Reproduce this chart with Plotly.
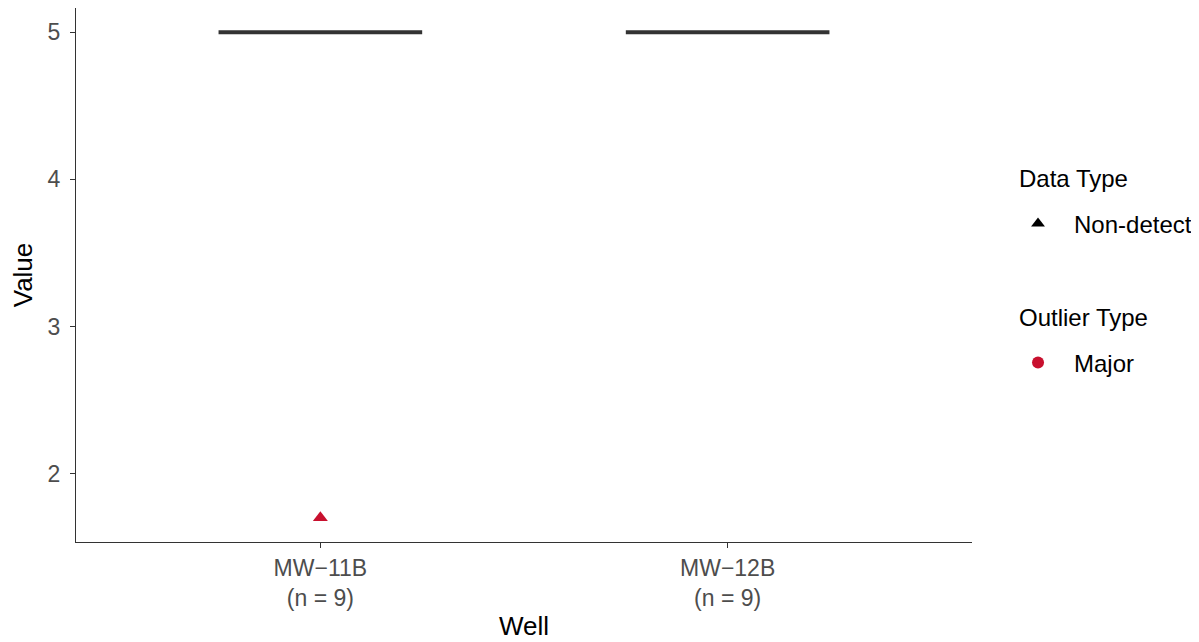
import plotly.graph_objects as go
import numpy as np

wells = ["MW−11B", "MW−12B"]
n_counts = [9, 9]
values_mw11b = [5, 5, 5, 5, 5, 5, 5, 5, 1.7]
values_mw12b = [5, 5, 5, 5, 5, 5, 5, 5, 5]
well_values = [values_mw11b, values_mw12b]
y_ticks = [2, 3, 4, 5]

FONT = "Liberation Sans, Arial, sans-serif"
RED = "#C8102E"
fig = go.Figure()

for i, vals in enumerate(well_values):
    arr = np.array(vals)
    q1, med, q3 = np.percentile(arr, [25, 50, 75])
    iqr = q3 - q1
    lo_lim, hi_lim = q1 - 1.5 * iqr, q3 + 1.5 * iqr
    inside = arr[(arr >= lo_lim) & (arr <= hi_lim)]
    outl = arr[(arr < lo_lim) | (arr > hi_lim)]
    fig.add_trace(go.Box(
        x=[i], q1=[q1], median=[med], q3=[q3],
        lowerfence=[inside.min()], upperfence=[inside.max()],
        width=0.5, boxpoints=False, fillcolor="rgba(255,255,255,0)",
        line=dict(color="#333333", width=4),
        showlegend=False, hoverinfo="skip",
    ))
    if len(outl):
        fig.add_trace(go.Scatter(
            x=[i] * len(outl), y=outl, mode="markers",
            marker=dict(symbol="triangle-up", color=RED, size=13),
            showlegend=False,
        ))

# legend entries (two legends, titles as annotations)
fig.add_trace(go.Scatter(
    x=[None], y=[None], mode="markers", name="Non-detect",
    marker=dict(symbol="triangle-up", color="black", size=12),
    legend="legend",
))
fig.add_trace(go.Scatter(
    x=[None], y=[None], mode="markers", name="Major",
    marker=dict(symbol="circle", color=RED, size=12),
    legend="legend2",
))

ticktext = [f"{w}<br>(n = {n})" for w, n in zip(wells, n_counts)]

leg_common = dict(x=1.0335, xanchor="left", yanchor="middle",
                  font=dict(size=24, color="black"), itemwidth=62,
                  bgcolor="rgba(0,0,0,0)")

fig.update_layout(
    width=1191, height=634,
    margin=dict(l=68, r=227, t=0, b=100),
    paper_bgcolor="white", plot_bgcolor="white",
    font=dict(family=FONT, size=24, color="black"),
    legend=dict(y=0.5955, **leg_common),
    legend2=dict(y=0.3352, **leg_common),
    annotations=[
        dict(text="Data Type", xref="paper", yref="paper", x=1.0502, y=0.6798,
             xanchor="left", yanchor="middle", showarrow=False,
             font=dict(size=24, color="black")),
        dict(text="Outlier Type", xref="paper", yref="paper", x=1.0502, y=0.4195,
             xanchor="left", yanchor="middle", showarrow=False,
             font=dict(size=24, color="black")),
    ],
    xaxis=dict(
        tickmode="array", tickvals=list(range(len(wells))), ticktext=ticktext,
        range=[-0.6, len(wells) - 0.4], automargin=False,
        showline=True, linecolor="#333333", linewidth=1,
        ticks="outside", ticklen=5, tickcolor="#333333",
        tickfont=dict(size=23, color="#4D4D4D"),
        showgrid=False, zeroline=False,
        title=dict(text="Well", font=dict(size=26), standoff=7),
    ),
    yaxis=dict(
        tickvals=y_ticks, range=[1.535, 5.165], automargin=False,
        showline=True, linecolor="#333333", linewidth=1,
        ticks="outside", ticklen=5, tickcolor="#333333",
        tickfont=dict(size=23, color="#4D4D4D"), ticklabelstandoff=5,
        showgrid=False, zeroline=False,
        title=dict(text="Value", font=dict(size=26), standoff=14),
    ),
)

fig.write_html("out.html")
